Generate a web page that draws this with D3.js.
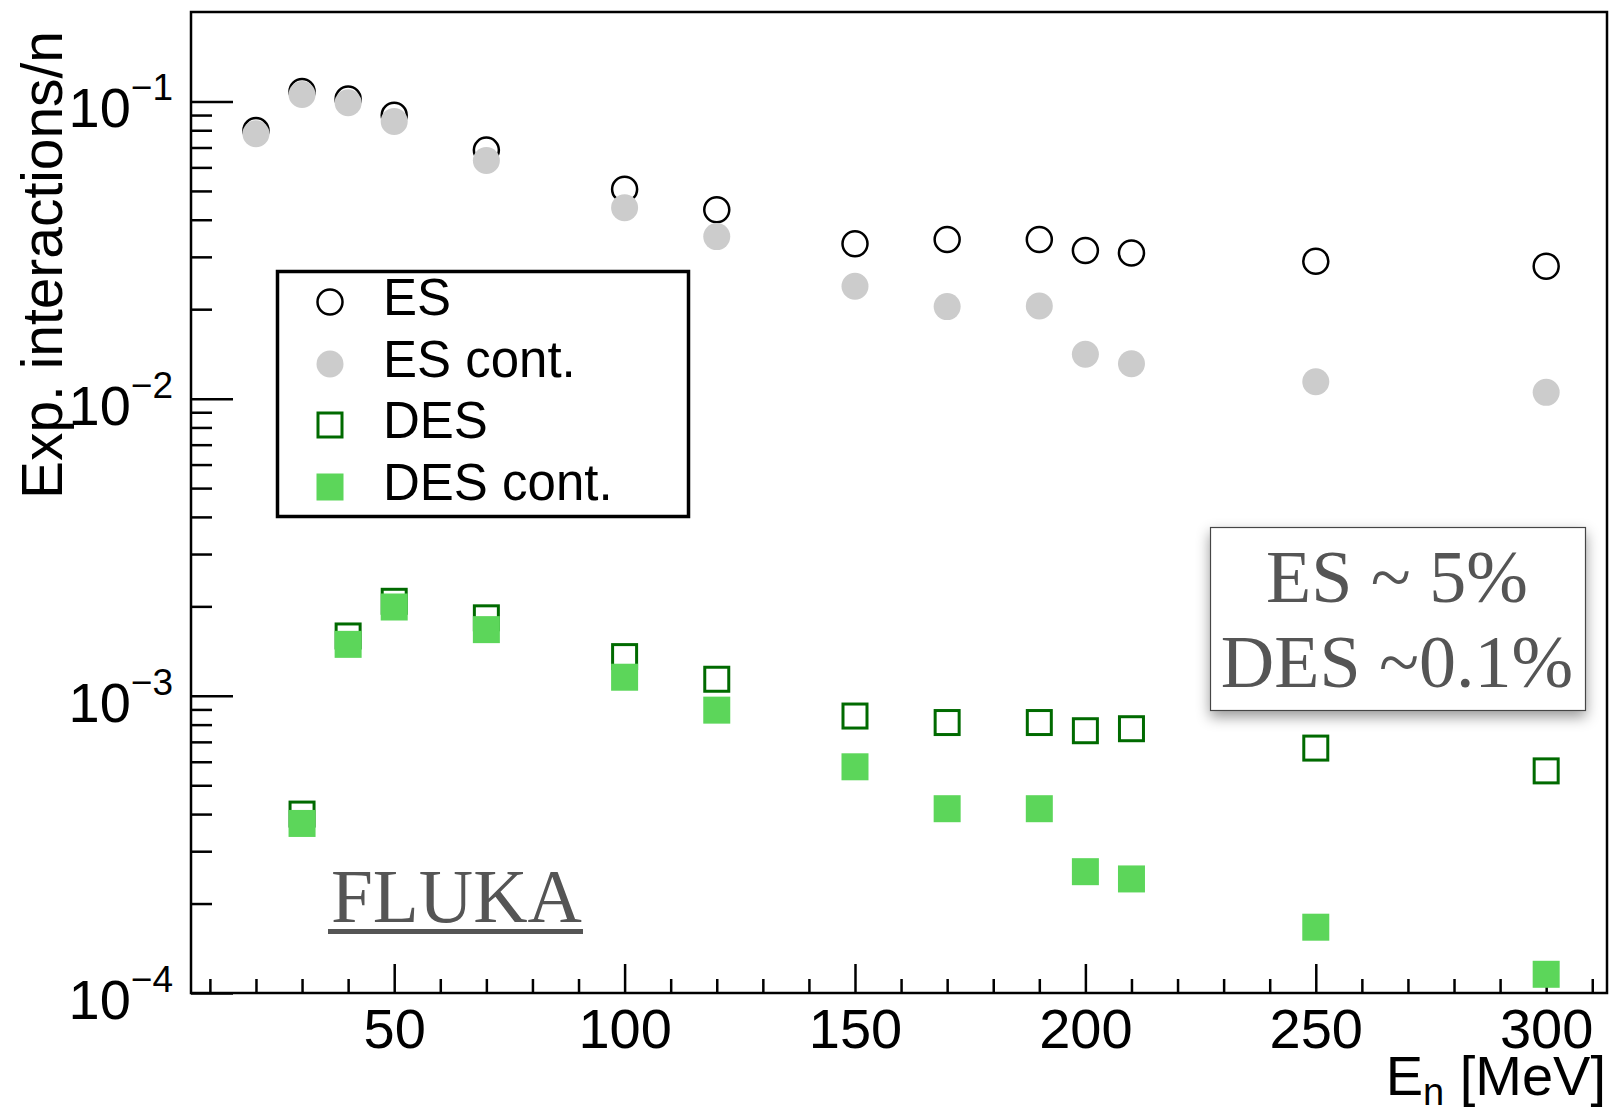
<!DOCTYPE html>
<html>
<head>
<meta charset="utf-8">
<script src="https://cdn.jsdelivr.net/npm/d3@7"></script>
<style>
  body { margin: 0; background: #fff; }
  svg { display: block; }
</style>
</head>
<body>
<div id="visual"></div>
<script>
// energies (MeV) and expected interactions per neutron
let esEnergy = [20, 30, 40, 50, 70, 100, 120, 150, 170, 190, 200, 210, 250, 300]
let esAll = [0.0798, 0.108, 0.102, 0.0899, 0.0686, 0.0507, 0.0432, 0.0332, 0.0343, 0.0343, 0.0315, 0.0309, 0.0290, 0.0279]
let esCont = [0.0779, 0.1055, 0.099, 0.0857, 0.0633, 0.0439, 0.0351, 0.0239, 0.0204, 0.0205, 0.0141, 0.0131, 0.0114, 0.0105]

let desEnergy = [30, 40, 50, 70, 100, 120, 150, 170, 190, 200, 210, 250, 300]
let desAll = [4.0e-4, 1.59e-3, 2.08e-3, 1.83e-3, 1.355e-3, 1.137e-3, 8.55e-4, 8.13e-4, 8.13e-4, 7.63e-4, 7.75e-4, 6.67e-4, 5.59e-4]
let desCont = [3.72e-4, 1.49e-3, 1.99e-3, 1.67e-3, 1.155e-3, 8.95e-4, 5.77e-4, 4.17e-4, 4.17e-4, 2.56e-4, 2.42e-4, 1.665e-4, 1.156e-4]

let xMajor = [50, 100, 150, 200, 250, 300]
let xMinor = [10, 20, 30, 40, 60, 70, 80, 90, 110, 120, 130, 140, 160, 170, 180, 190, 210, 220, 230, 240, 260, 270, 280, 290, 310]
let yMajor = [1e-4, 1e-3, 1e-2, 1e-1]
let yExponents = ["\u22124", "\u22123", "\u22122", "\u22121"]

let legendLabels = ["ES", "ES cont.", "DES", "DES cont."]
let boxLines = ["ES ~ 5%", "DES ~0.1%"]

const W = 1613, H = 1107
const frame = { left: 191, right: 1607, top: 12, bottom: 993 }

const GRAY = "#cccccc", DKGREEN = "#006a00", GREEN = "#5cd65a"
const SANS = "'Liberation Sans', Arial, Helvetica, sans-serif"
const SERIF = "'Liberation Serif', 'Times New Roman', serif"

var svg = d3.select("#visual")
    .append("svg")
    .attr("width", W)
    .attr("height", H)
    .style("background", "#fff")

let defs = svg.append("defs")
let shadow = defs.append("filter").attr("id", "shadow")
    .attr("x", "-20%").attr("y", "-20%").attr("width", "140%").attr("height", "150%")
shadow.append("feDropShadow")
    .attr("dx", 0).attr("dy", 6).attr("stdDeviation", 7)
    .attr("flood-color", "#000").attr("flood-opacity", 0.4)

let x = d3.scaleLinear()
    .domain([5.9, 313.2])
    .range([frame.left, frame.right])

let y = d3.scaleLog()
    .domain([1e-4, 0.2])
    .range([frame.bottom, frame.top])

let yMinor = []
yMajor.forEach(d => {
    for (let k = 2; k <= 9; k++) {
        let v = k * d
        if (v < 0.2) yMinor.push(v)
    }
})

// frame
svg.append("rect")
    .attr("x", frame.left).attr("y", frame.top)
    .attr("width", frame.right - frame.left)
    .attr("height", frame.bottom - frame.top)
    .attr("fill", "none").attr("stroke", "#000").attr("stroke-width", 2.5)

// x axis: major + minor ticks pointing inward
let xAxisMajor = d3.axisBottom(x)
    .tickValues(xMajor)
    .tickSize(-29)
    .tickPadding(15)
    .tickFormat(d3.format("d"))
let gx = svg.append("g")
    .attr("transform", "translate(0," + frame.bottom + ")")
    .call(xAxisMajor)
gx.select(".domain").remove()
gx.selectAll("line").attr("stroke", "#000").attr("stroke-width", 2.5)
gx.selectAll("text")
    .attr("font-family", SANS).attr("font-size", 56).attr("fill", "#000")

let gxm = svg.append("g")
    .attr("transform", "translate(0," + frame.bottom + ")")
    .call(d3.axisBottom(x).tickValues(xMinor).tickSize(-14).tickFormat(""))
gxm.select(".domain").remove()
gxm.selectAll("line").attr("stroke", "#000").attr("stroke-width", 2.5)

// y axis: major + minor ticks pointing inward
let gy = svg.append("g")
    .attr("transform", "translate(" + frame.left + ",0)")
    .call(d3.axisLeft(y).tickValues(yMajor).tickSize(-42).tickFormat(""))
gy.select(".domain").remove()
gy.selectAll("line").attr("stroke", "#000").attr("stroke-width", 2.5)

let gym = svg.append("g")
    .attr("transform", "translate(" + frame.left + ",0)")
    .call(d3.axisLeft(y).tickValues(yMinor).tickSize(-21).tickFormat(""))
gym.select(".domain").remove()
gym.selectAll("line").attr("stroke", "#000").attr("stroke-width", 2.5)

// y tick labels 10^n
let ylab = svg.selectAll("ylabels")
    .data(yMajor)
    .enter()
    .append("text")
    .attr("x", 173)
    .attr("y", d => y(d) + 26)
    .attr("text-anchor", "end")
    .attr("font-family", SANS)
    .attr("font-size", 56)
    .attr("fill", "#000")
ylab.append("tspan").text("10")
ylab.append("tspan")
    .attr("font-size", 37)
    .attr("dy", -27)
    .text((d, i) => yExponents[i])

// axis titles
svg.append("text")
    .attr("transform", "translate(62,31) rotate(-90)")
    .attr("text-anchor", "end")
    .attr("font-family", SANS)
    .attr("font-size", 57)
    .attr("textLength", 468)
    .attr("lengthAdjust", "spacingAndGlyphs")
    .text("Exp. interactions/n")

let xt = svg.append("text")
    .attr("x", 1606)
    .attr("y", 1095)
    .attr("text-anchor", "end")
    .attr("font-family", SANS)
    .attr("font-size", 56)
xt.append("tspan").text("E")
xt.append("tspan").attr("font-size", 38).attr("dy", 10).text("n")
xt.append("tspan").attr("dy", -10).text(" [MeV]")

// data markers
let plot = svg.append("g")

plot.selectAll("es")
    .data(esEnergy)
    .enter()
    .append("circle")
    .attr("cx", d => x(d))
    .attr("cy", (d, i) => y(esAll[i]))
    .attr("r", 12.5)
    .attr("fill", "none")
    .attr("stroke", "#000")
    .attr("stroke-width", 2.5)

plot.selectAll("escont")
    .data(esEnergy)
    .enter()
    .append("circle")
    .attr("cx", d => x(d))
    .attr("cy", (d, i) => y(esCont[i]))
    .attr("r", 13.5)
    .attr("fill", GRAY)

plot.selectAll("des")
    .data(desEnergy)
    .enter()
    .append("rect")
    .attr("x", d => x(d) - 12)
    .attr("y", (d, i) => y(desAll[i]) - 12)
    .attr("width", 24)
    .attr("height", 24)
    .attr("fill", "none")
    .attr("stroke", DKGREEN)
    .attr("stroke-width", 3)

plot.selectAll("descont")
    .data(desEnergy)
    .enter()
    .append("rect")
    .attr("x", d => x(d) - 13.5)
    .attr("y", (d, i) => y(desCont[i]) - 13.5)
    .attr("width", 27)
    .attr("height", 27)
    .attr("fill", GREEN)

// legend
let legend = svg.append("g")
legend.append("rect")
    .attr("x", 277.5).attr("y", 271.5)
    .attr("width", 411).attr("height", 245)
    .attr("fill", "#fff")
    .attr("stroke", "#000")
    .attr("stroke-width", 3.5)

let rowY = [302, 364, 425, 487]
let mx = 330

legend.append("circle")
    .attr("cx", mx).attr("cy", rowY[0]).attr("r", 12.5)
    .attr("fill", "none").attr("stroke", "#000").attr("stroke-width", 2.5)
legend.append("circle")
    .attr("cx", mx).attr("cy", rowY[1]).attr("r", 13.5)
    .attr("fill", GRAY)
legend.append("rect")
    .attr("x", mx - 12).attr("y", rowY[2] - 12).attr("width", 24).attr("height", 24)
    .attr("fill", "none").attr("stroke", DKGREEN).attr("stroke-width", 3)
legend.append("rect")
    .attr("x", mx - 13.5).attr("y", rowY[3] - 13.5).attr("width", 27).attr("height", 27)
    .attr("fill", GREEN)

legend.selectAll("ltext")
    .data(legendLabels)
    .enter()
    .append("text")
    .attr("x", 383)
    .attr("y", (d, i) => rowY[i] + 13)
    .attr("font-family", SANS)
    .attr("font-size", 51)
    .text(d => d)

// FLUKA label
svg.append("text")
    .attr("x", 331)
    .attr("y", 922)
    .attr("font-family", SERIF)
    .attr("font-size", 77)
    .attr("fill", "#555")
    .attr("textLength", 251)
    .attr("lengthAdjust", "spacingAndGlyphs")
    .text("FLUKA")
svg.append("rect")
    .attr("x", 328).attr("y", 929)
    .attr("width", 255).attr("height", 5)
    .attr("fill", "#555")

// percentage box
let box = svg.append("g")
box.append("rect")
    .attr("x", 1210.5).attr("y", 527.5)
    .attr("width", 375).attr("height", 183)
    .attr("fill", "#fff")
    .attr("stroke", "#444")
    .attr("stroke-width", 1.2)
    .attr("filter", "url(#shadow)")
box.selectAll("btext")
    .data(boxLines)
    .enter()
    .append("text")
    .attr("x", 1397)
    .attr("y", (d, i) => [602, 687][i])
    .attr("text-anchor", "middle")
    .attr("font-family", SERIF)
    .attr("font-size", 74)
    .attr("fill", "#555")
    .text(d => d)
</script>
</body>
</html>
